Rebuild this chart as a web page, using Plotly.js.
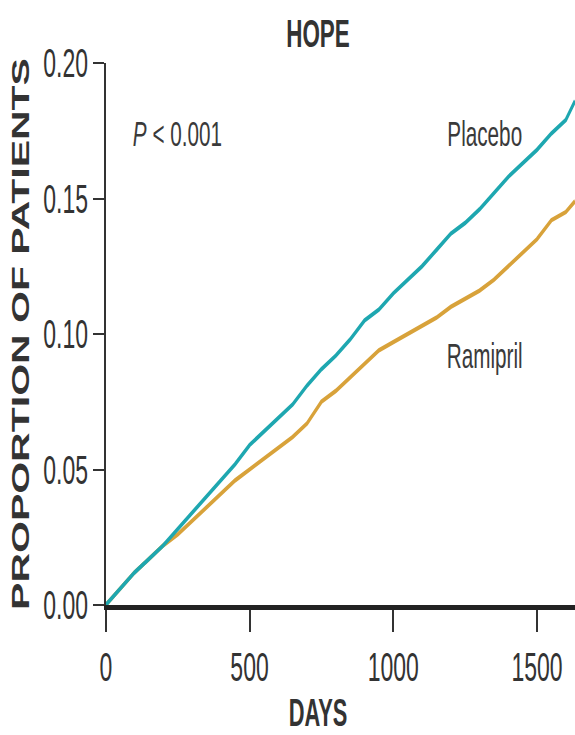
<!DOCTYPE html>
<html>
<head>
<meta charset="utf-8">
<script src="https://cdn.plot.ly/plotly-3.0.1.min.js"></script>
<style>
html, body { margin: 0; padding: 0; overflow: hidden; background: #fff; }
#wrap { width: 575px; height: 735px; overflow: hidden; position: relative; }
#plot { width: 1000px; height: 735px; transform: scaleX(0.575); transform-origin: 0 0; }
</style>
</head>
<body>
<div id="wrap"><div id="plot"></div></div>
<script>
// Days of follow-up
const days = [0, 50, 100, 150, 200, 250, 300, 350, 400, 450, 500, 550, 600, 650, 700, 750, 800, 850, 900, 950,
              1000, 1050, 1100, 1150, 1200, 1250, 1300, 1350, 1400, 1450, 1500, 1550, 1600, 1632];
// Cumulative proportion of patients with an event
const placebo = [0, 0.006, 0.012, 0.017, 0.022, 0.028, 0.034, 0.040, 0.046, 0.052, 0.059, 0.064, 0.069, 0.074, 0.081, 0.087, 0.092, 0.098, 0.105, 0.109,
                 0.115, 0.120, 0.125, 0.131, 0.137, 0.141, 0.146, 0.152, 0.158, 0.163, 0.168, 0.174, 0.179, 0.186];
const ramipril = [0, 0.006, 0.012, 0.017, 0.022, 0.026, 0.031, 0.036, 0.041, 0.046, 0.050, 0.054, 0.058, 0.062, 0.067, 0.075, 0.079, 0.084, 0.089, 0.094,
                  0.097, 0.100, 0.103, 0.106, 0.110, 0.113, 0.116, 0.120, 0.125, 0.130, 0.135, 0.142, 0.145, 0.149];
const xTicks = [0, 500, 1000, 1500];
const yTicks = [0, 0.05, 0.10, 0.15, 0.20];
const yTickText = ['0.00', '0.05', '0.10', '0.15', '0.20'];

const FONT = 'Liberation Sans, Arial, sans-serif';
const TXT = '#3a3a3a';

const traces = [
  { x: days, y: ramipril, mode: 'lines', name: 'Ramipril', line: { color: '#d8a23a', width: 4.5 }, hoverinfo: 'skip' },
  { x: days, y: placebo, mode: 'lines', name: 'Placebo', line: { color: '#1ea7b0', width: 4.5 }, hoverinfo: 'skip' }
];

const layout = {
  width: 1000, height: 735,
  margin: { l: 184, r: 0, t: 63, b: 130 },
  paper_bgcolor: '#fff', plot_bgcolor: '#fff',
  showlegend: false,
  font: { family: FONT, color: TXT },
  title: { text: '<b>HOPE</b>', xref: 'container', x: 0.553, xanchor: 'center', yref: 'container', y: 1 - 33 / 735, yanchor: 'middle',
           font: { family: FONT, size: 39, color: '#333' } },
  xaxis: {
    range: [0, 1632], tickvals: xTicks, ticktext: xTicks.map(String),
    showgrid: false, zeroline: false, showline: true, linecolor: '#222', linewidth: 4.5,
    ticks: 'outside', ticklen: 22, tickwidth: 3.5, tickcolor: '#333',
    tickfont: { family: FONT, size: 40, color: '#333' }, ticklabelstandoff: 2
  },
  yaxis: {
    range: [0, 0.2], tickvals: yTicks, ticktext: yTickText,
    showgrid: false, zeroline: false, showline: true, linecolor: '#333', linewidth: 4,
    ticks: 'outside', ticklen: 19, tickwidth: 2, tickcolor: '#333',
    tickfont: { family: FONT, size: 40, color: '#333' },
    title: { text: '<b>PROPORTION OF PATIENTS</b>', font: { family: FONT, size: 41, color: '#333' }, standoff: 12 }
  },
  annotations: [
    { xref: 'paper', yref: 'paper', x: (553 - 184) / 816, y: (605 - 713) / 542, text: '<b>DAYS</b>', showarrow: false,
      xanchor: 'center', yanchor: 'middle', font: { family: FONT, size: 38, color: '#333' } },
    { xref: 'paper', yref: 'paper', x: (308 - 184) / 816, y: (605 - 133) / 542, text: '<i>P</i> < 0.001', showarrow: false,
      xanchor: 'center', yanchor: 'middle', font: { family: FONT, size: 36, color: TXT } },
    { xref: 'paper', yref: 'paper', x: (843 - 184) / 816, y: (605 - 133) / 542, text: 'Placebo', showarrow: false,
      xanchor: 'center', yanchor: 'middle', font: { family: FONT, size: 36, color: TXT } },
    { xref: 'paper', yref: 'paper', x: (843 - 184) / 816, y: (605 - 355) / 542, text: 'Ramipril', showarrow: false,
      xanchor: 'center', yanchor: 'middle', font: { family: FONT, size: 36, color: TXT } }
  ]
};

Plotly.newPlot('plot', traces, layout, { displayModeBar: false, staticPlot: true });
</script>
</body>
</html>
